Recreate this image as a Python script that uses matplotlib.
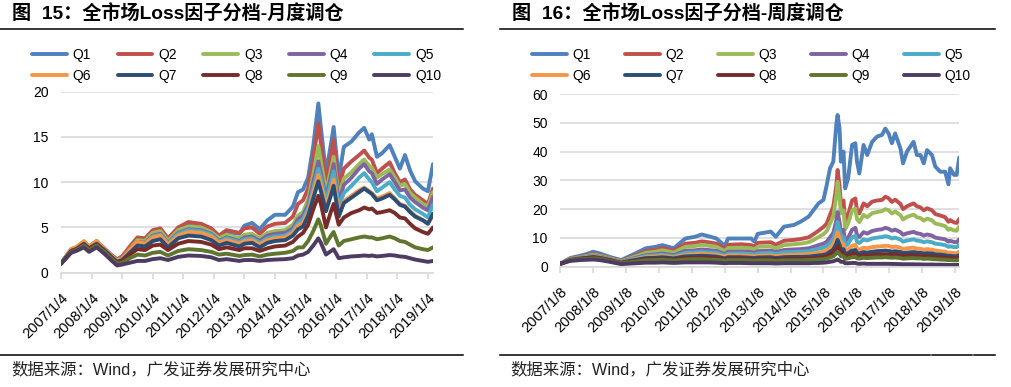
import matplotlib
matplotlib.use('Agg')
import matplotlib.pyplot as plt
from matplotlib.lines import Line2D

plt.rcParams['font.family'] = ['Liberation Sans', 'Noto Sans CJK SC', 'DejaVu Sans']

names = ['Q1', 'Q2', 'Q3', 'Q4', 'Q5', 'Q6', 'Q7', 'Q8', 'Q9', 'Q10']
colors = ['#4F81BD', '#C0504D', '#9BBB59', '#8064A2', '#4BACC6',
          '#F79646', '#2C4D75', '#772C2A', '#5F7530', '#4D3B62']

# ---- monthly rebalancing (months since 2007/1) ----
m_labels = ['2007/1/4', '2008/1/4', '2009/1/4', '2010/1/4', '2011/1/4', '2012/1/4', '2013/1/4',
            '2014/1/4', '2015/1/4', '2016/1/4', '2017/1/4', '2018/1/4', '2019/1/4']
m_x = [0, 2, 4, 6, 9, 11, 14, 17, 20, 22, 24, 27, 30, 33, 36, 39, 42, 46, 50, 55, 59, 62, 65, 70,
       72, 75, 78, 81, 84, 88, 91, 93, 95, 97, 99, 101, 102, 104, 106, 107, 109, 111, 114, 117,
       119, 121, 122, 124, 126, 129, 131, 133, 135, 137, 139, 142, 144, 146]
m_q1 = [1.0, 1.7, 2.4, 2.5, 3.3, 2.7, 3.4, 2.6, 1.8, 1.3, 1.6, 2.5, 3.5, 3.4, 4.3, 4.6, 3.6, 4.8,
        5.2, 5.0, 4.6, 3.7, 4.5, 4.3, 5.2, 5.5, 4.8, 5.8, 6.4, 6.4, 7.3, 8.9, 9.2, 10.5, 14.0, 18.7,
        16.0, 11.0, 14.3, 16.1, 10.4, 13.9, 14.5, 15.5, 16.0, 14.7, 15.3, 12.8, 13.2, 14.1, 12.8,
        11.5, 13.0, 11.3, 10.1, 9.3, 9.0, 12.0]
m_q2 = [1.0, 1.8, 2.6, 2.8, 3.4, 2.9, 3.5, 2.7, 1.9, 1.5, 1.8, 2.9, 3.9, 3.8, 4.7, 4.9, 3.8, 5.0,
        5.6, 5.4, 4.9, 4.1, 4.7, 4.4, 4.9, 5.0, 4.3, 5.1, 5.4, 5.5, 6.2, 7.6, 8.0, 9.3, 12.5, 16.5,
        14.3, 10.0, 13.0, 14.7, 9.3, 11.5, 12.3, 13.0, 13.5, 12.7, 12.5, 11.0, 11.5, 12.2, 11.0,
        10.0, 10.3, 9.2, 8.6, 8.0, 7.6, 9.3]
m_q3 = [1.0, 1.8, 2.5, 2.7, 3.3, 2.8, 3.4, 2.6, 1.8, 1.4, 1.6, 2.6, 3.6, 3.5, 4.4, 4.6, 3.5, 4.7,
        5.1, 5.0, 4.5, 3.8, 4.2, 3.8, 4.2, 4.3, 3.8, 4.4, 4.6, 4.7, 5.3, 6.3, 6.7, 8.1, 10.8, 14.0,
        12.3, 8.8, 11.5, 12.8, 8.4, 10.4, 11.1, 12.0, 12.5, 11.8, 11.6, 10.5, 10.9, 11.4, 10.5,
        9.6, 9.8, 8.8, 8.3, 7.6, 7.3, 8.9]
m_q4 = [1.0, 1.7, 2.5, 2.7, 3.3, 2.8, 3.4, 2.6, 1.8, 1.3, 1.5, 2.5, 3.4, 3.3, 4.1, 4.3, 3.3, 4.4,
        4.8, 4.7, 4.3, 3.5, 3.9, 3.5, 3.9, 4.0, 3.5, 4.1, 4.3, 4.4, 4.9, 5.9, 6.3, 7.5, 10.0, 12.3,
        11.0, 8.3, 10.7, 12.0, 7.8, 9.7, 10.5, 11.5, 12.0, 11.2, 11.0, 9.8, 10.3, 10.9, 10.0,
        9.1, 9.2, 8.3, 7.8, 7.2, 6.9, 8.4]
m_q5 = [1.0, 1.8, 2.5, 2.7, 3.4, 2.8, 3.5, 2.6, 1.8, 1.3, 1.5, 2.4, 3.3, 3.2, 4.0, 4.2, 3.2, 4.3,
        4.7, 4.6, 4.2, 3.4, 3.8, 3.4, 3.7, 3.8, 3.3, 3.8, 4.0, 4.1, 4.6, 5.5, 5.9, 7.1, 9.3, 11.5,
        10.4, 8.0, 10.0, 11.2, 7.3, 8.8, 9.6, 10.5, 11.0, 10.3, 10.0, 9.0, 9.4, 10.0, 9.2,
        8.5, 8.3, 7.5, 7.0, 6.5, 6.1, 7.5]
m_q6 = [1.0, 1.8, 2.6, 2.8, 3.5, 2.9, 3.5, 2.6, 1.8, 1.3, 1.5, 2.5, 3.4, 3.2, 3.9, 4.1, 3.1, 4.1,
        4.5, 4.4, 4.0, 3.3, 3.6, 3.2, 3.5, 3.6, 3.1, 3.6, 3.8, 3.9, 4.4, 5.2, 5.5, 6.7, 8.8, 10.8,
        9.7, 7.4, 9.2, 10.3, 6.6, 7.9, 8.5, 9.1, 9.4, 9.0, 8.8, 8.2, 8.4, 8.8, 8.2,
        7.6, 7.4, 6.8, 6.3, 5.8, 5.5, 6.3]
m_q7 = [1.0, 1.7, 2.4, 2.6, 3.2, 2.7, 3.2, 2.5, 1.7, 1.2, 1.4, 2.2, 3.0, 2.9, 3.5, 3.7, 2.8, 3.8,
        4.1, 4.0, 3.6, 3.0, 3.3, 2.9, 3.2, 3.3, 2.8, 3.3, 3.5, 3.6, 4.1, 4.8, 5.1, 6.3, 8.2, 10.1,
        9.0, 6.8, 8.6, 9.6, 6.2, 7.7, 8.3, 8.9, 9.3, 8.9, 8.7, 8.0, 8.2, 8.6, 8.1,
        7.5, 7.3, 6.7, 6.2, 5.8, 5.4, 6.5]
m_q8 = [1.0, 1.7, 2.4, 2.6, 3.1, 2.6, 3.1, 2.4, 1.6, 1.1, 1.3, 2.0, 2.6, 2.5, 3.0, 3.1, 2.5, 3.2,
        3.5, 3.4, 3.1, 2.6, 2.8, 2.5, 2.7, 2.7, 2.4, 2.7, 2.9, 3.0, 3.4, 4.0, 4.4, 5.3, 7.0, 8.5,
        7.6, 5.0, 6.8, 7.6, 5.3, 6.1, 6.6, 6.9, 7.2, 7.0, 7.1, 6.6, 6.7, 6.9, 6.6,
        6.1, 6.0, 5.4, 4.9, 4.5, 4.3, 5.0]
m_q9 = [1.0, 1.6, 2.3, 2.5, 3.0, 2.5, 3.0, 2.3, 1.5, 1.0, 1.1, 1.6, 2.0, 1.9, 2.2, 2.3, 1.9, 2.4,
        2.6, 2.5, 2.3, 2.0, 2.1, 1.85, 1.95, 2.0, 1.8, 2.0, 2.1, 2.2, 2.4, 2.8, 2.8, 3.5, 4.6, 5.9,
        5.2, 3.2, 4.1, 4.5, 3.0, 3.5, 3.7, 3.9, 4.0, 3.9, 3.9, 3.7, 3.8, 4.0, 3.8,
        3.5, 3.4, 3.1, 2.8, 2.6, 2.5, 2.8]
m_q10 = [1.0, 1.6, 2.2, 2.4, 2.8, 2.3, 2.8, 2.1, 1.3, 0.8, 0.9, 1.1, 1.3, 1.3, 1.5, 1.6, 1.4, 1.75,
         1.9, 1.85, 1.7, 1.4, 1.5, 1.3, 1.4, 1.4, 1.3, 1.4, 1.45, 1.5, 1.6, 1.9, 2.0, 2.3, 3.0, 3.8,
         3.3, 2.0, 2.4, 2.6, 1.6, 1.7, 1.8, 1.85, 1.9, 1.85, 1.9, 1.8, 1.85, 1.95, 1.9,
         1.8, 1.75, 1.6, 1.45, 1.3, 1.2, 1.3]

# ---- weekly rebalancing (fractional year) ----
w_labels = ['2007/1/8', '2008/1/8', '2009/1/8', '2010/1/8', '2011/1/8', '2012/1/8', '2013/1/8',
            '2014/1/8', '2015/1/8', '2016/1/8', '2017/1/8', '2018/1/8', '2019/1/8']
w_x = [2007.0, 2007.3, 2007.6, 2007.8, 2008.0, 2008.2, 2008.5, 2008.85, 2009.0, 2009.3, 2009.6,
       2009.9, 2010.1, 2010.45, 2010.8, 2011.1, 2011.3, 2011.5, 2011.75, 2012.0, 2012.1, 2012.5,
       2012.8, 2012.9, 2013.0, 2013.4, 2013.55, 2013.8, 2014.1, 2014.3, 2014.55, 2014.7, 2014.85,
       2015.0, 2015.1, 2015.2, 2015.3, 2015.39, 2015.43, 2015.49, 2015.53, 2015.61, 2015.66,
       2015.75, 2015.87, 2015.97, 2016.02, 2016.09, 2016.22, 2016.33, 2016.48, 2016.63, 2016.78,
       2016.88, 2016.98, 2017.08, 2017.18, 2017.34, 2017.42, 2017.54, 2017.74, 2017.84, 2017.95,
       2018.05, 2018.15, 2018.3, 2018.4, 2018.55, 2018.7, 2018.8, 2018.85, 2018.97, 2019.05,
       2019.13]
w_q1 = [1.0, 3.0, 3.8, 4.4, 5.2, 4.6, 3.4, 2.3, 3.1, 4.7, 6.4, 6.9, 7.5, 6.4, 9.8, 10.4, 11.2,
        10.6, 9.8, 7.2, 9.8, 9.8, 9.8, 8.7, 11.4, 12.2, 10.4, 13.9, 14.5, 15.6, 17.4, 19.7, 22.0,
        23.2, 28.4, 34.2, 36.5, 49.2, 52.7, 48.0, 36.5, 40.0, 27.2, 30.7, 42.3, 42.9, 36.5, 32.4,
        42.3, 38.8, 43.4, 45.2, 45.8, 48.0, 46.3, 42.9, 46.3, 41.1, 35.9, 40.0, 43.4, 38.8, 38.8,
        35.9, 40.5, 38.8, 34.8, 33.0, 33.0, 28.6, 34.2, 31.9, 31.9, 38.0]
w_q2 = [1.0, 2.8, 3.4, 3.9, 4.5, 4.0, 3.0, 2.0, 2.7, 4.0, 5.4, 5.9, 6.5, 5.5, 8.0, 8.3, 8.8,
        8.5, 8.0, 6.2, 7.6, 7.8, 7.5, 7.0, 8.3, 8.5, 7.6, 9.0, 9.3, 9.6, 10.2, 11.3, 12.5,
        13.8, 15.0, 18.0, 21.0, 28.0, 33.6, 28.0, 22.0, 23.0, 15.6, 18.0, 23.0, 23.7, 19.5, 18.5,
        22.0, 21.0, 22.6, 23.0, 23.2, 24.3, 23.8, 22.5, 23.3, 21.8, 20.0, 21.0, 22.0, 21.0, 20.6,
        19.6, 20.3, 19.6, 18.3, 17.8, 17.2, 15.6, 16.2, 15.4, 15.2, 16.6]
w_q3 = [1.0, 2.7, 3.3, 3.7, 4.2, 3.8, 2.9, 1.9, 2.5, 3.6, 4.8, 5.2, 5.7, 4.9, 6.9, 7.2, 7.6,
        7.3, 6.9, 5.4, 6.5, 6.6, 6.4, 6.0, 6.9, 7.1, 6.4, 7.5, 7.8, 8.0, 8.5, 9.3, 10.3,
        11.3, 12.4, 15.0, 17.5, 24.5, 29.5, 24.0, 18.5, 19.5, 13.0, 15.0, 19.5, 20.2, 16.5, 15.5,
        18.0, 17.2, 18.6, 19.0, 19.3, 20.0, 19.6, 18.5, 19.2, 17.9, 16.4, 17.3, 18.1, 17.2, 16.9,
        16.0, 16.7, 16.1, 15.0, 14.6, 14.1, 12.8, 13.2, 12.6, 12.5, 14.0]
w_q4 = [1.0, 2.6, 3.1, 3.5, 3.9, 3.5, 2.7, 1.7, 2.2, 3.1, 4.0, 4.3, 4.6, 4.0, 5.5, 5.7, 6.0,
        5.8, 5.5, 4.4, 5.2, 5.3, 5.1, 4.8, 5.4, 5.6, 5.1, 5.8, 6.0, 6.1, 6.4, 6.9, 7.5,
        8.0, 8.7, 10.2, 11.8, 16.0, 19.0, 15.5, 12.2, 12.8, 8.8, 10.0, 12.8, 13.5, 11.0, 10.3,
        12.0, 11.5, 12.4, 12.8, 13.0, 13.5, 13.2, 12.5, 12.9, 12.0, 11.1, 11.6, 12.1, 11.6, 11.4,
        10.8, 11.2, 10.8, 10.1, 9.8, 9.5, 8.7, 9.0, 8.6, 8.5, 9.5]
w_q5 = [1.0, 2.6, 3.1, 3.4, 3.8, 3.4, 2.6, 1.6, 2.1, 2.9, 3.7, 3.9, 4.2, 3.6, 4.8, 5.0, 5.2,
        5.0, 4.8, 3.9, 4.5, 4.6, 4.4, 4.2, 4.6, 4.8, 4.4, 5.0, 5.1, 5.2, 5.4, 5.8, 6.2,
        6.6, 7.1, 8.3, 9.6, 13.0, 15.5, 12.6, 9.9, 10.3, 7.1, 8.0, 10.2, 10.7, 8.7, 8.2,
        9.5, 9.1, 9.8, 10.1, 10.3, 10.6, 10.4, 9.8, 10.1, 9.4, 8.7, 9.1, 9.5, 9.1, 8.9,
        8.5, 8.8, 8.5, 8.0, 7.8, 7.5, 6.9, 7.1, 6.8, 6.8, 7.5]
w_q6 = [1.0, 2.5, 3.0, 3.3, 3.6, 3.3, 2.5, 1.5, 1.9, 2.6, 3.3, 3.5, 3.7, 3.2, 4.1, 4.3, 4.5,
        4.3, 4.1, 3.4, 3.9, 3.9, 3.7, 3.5, 3.8, 3.9, 3.6, 4.0, 4.1, 4.2, 4.3, 4.6, 4.9,
        5.2, 5.6, 6.6, 7.6, 10.2, 12.0, 9.8, 7.7, 7.9, 5.5, 6.0, 7.3, 7.6, 6.2, 5.9,
        6.6, 6.4, 6.8, 7.0, 7.1, 7.3, 7.2, 6.8, 7.0, 6.6, 6.1, 6.4, 6.6, 6.3, 6.2,
        5.9, 6.1, 5.9, 5.6, 5.4, 5.2, 4.8, 4.9, 4.7, 4.7, 5.2]
w_q7 = [1.0, 2.4, 2.9, 3.1, 3.4, 3.1, 2.4, 1.4, 1.8, 2.4, 3.0, 3.1, 3.3, 2.9, 3.6, 3.7, 3.8,
        3.7, 3.5, 2.9, 3.3, 3.3, 3.1, 3.0, 3.2, 3.3, 3.0, 3.3, 3.4, 3.4, 3.5, 3.7, 3.9,
        4.1, 4.4, 5.2, 6.0, 8.0, 9.3, 7.6, 6.0, 6.1, 4.3, 4.7, 5.6, 5.8, 4.8, 4.6,
        5.1, 4.9, 5.2, 5.4, 5.5, 5.6, 5.5, 5.2, 5.4, 5.1, 4.7, 4.9, 5.1, 4.9, 4.8,
        4.6, 4.7, 4.6, 4.3, 4.2, 4.0, 3.7, 3.8, 3.6, 3.6, 4.0]
w_q8 = [1.0, 2.3, 2.7, 2.9, 3.2, 2.9, 2.2, 1.3, 1.6, 2.1, 2.6, 2.7, 2.8, 2.5, 3.0, 3.1, 3.2,
        3.1, 2.9, 2.5, 2.8, 2.8, 2.6, 2.5, 2.7, 2.7, 2.5, 2.7, 2.8, 2.8, 2.9, 3.0, 3.2,
        3.3, 3.6, 4.2, 4.8, 6.3, 7.2, 6.0, 4.8, 4.8, 3.5, 3.8, 4.4, 4.5, 3.8, 3.6,
        4.0, 3.9, 4.1, 4.2, 4.3, 4.3, 4.3, 4.1, 4.2, 4.0, 3.7, 3.8, 4.0, 3.8, 3.8,
        3.6, 3.7, 3.6, 3.4, 3.3, 3.2, 3.0, 3.0, 2.9, 2.9, 3.2]
w_q9 = [1.0, 2.2, 2.6, 2.7, 2.9, 2.7, 2.0, 1.2, 1.4, 1.8, 2.2, 2.3, 2.4, 2.1, 2.5, 2.6, 2.6,
        2.5, 2.4, 2.1, 2.3, 2.3, 2.2, 2.1, 2.2, 2.2, 2.0, 2.2, 2.2, 2.2, 2.3, 2.4, 2.5,
        2.6, 2.8, 3.2, 3.6, 4.6, 5.2, 4.4, 3.6, 3.6, 2.7, 2.9, 3.3, 3.4, 2.9, 2.8,
        3.1, 3.0, 3.1, 3.2, 3.2, 3.3, 3.2, 3.1, 3.2, 3.0, 2.8, 2.9, 3.0, 2.9, 2.9,
        2.7, 2.8, 2.7, 2.6, 2.5, 2.4, 2.3, 2.3, 2.2, 2.2, 2.4]
w_q10 = [1.0, 2.0, 2.3, 2.4, 2.5, 2.3, 1.7, 0.9, 1.0, 1.2, 1.4, 1.4, 1.5, 1.3, 1.5, 1.5, 1.5,
         1.5, 1.4, 1.2, 1.3, 1.3, 1.2, 1.2, 1.2, 1.2, 1.1, 1.2, 1.2, 1.2, 1.2, 1.3, 1.3,
         1.4, 1.5, 1.7, 1.9, 2.3, 2.5, 2.1, 1.7, 1.7, 1.2, 1.2, 1.3, 1.3, 1.1, 1.0,
         1.1, 1.0, 1.0, 1.0, 1.0, 1.0, 1.0, 0.95, 0.95, 0.9, 0.85, 0.85, 0.85, 0.8, 0.8,
         0.75, 0.75, 0.75, 0.7, 0.7, 0.65, 0.6, 0.6, 0.6, 0.6, 0.65]

GRID = '#D9D9D9'
W, H = 1011.0, 387.0


def draw_panel(ax, x, series, ticks, labels, ylim, yticks):
    for s, c, n in zip(series, colors, names):
        ax.plot(x, s, color=c, lw=2.8, label=n, solid_capstyle='round', solid_joinstyle='round')
    ax.set_xlim(x[0], x[-1])
    ax.set_ylim(*ylim)
    ax.set_yticks(yticks)
    ax.set_xticks(ticks)
    ax.set_xticklabels(labels, rotation=45, ha='right', rotation_mode='anchor')
    ax.grid(axis='y', color=GRID, lw=1.2)
    ax.set_axisbelow(True)
    for k in ['top', 'right', 'left']:
        ax.spines[k].set_visible(False)
    ax.spines['bottom'].set_color(GRID)
    ax.spines['bottom'].set_linewidth(1.2)
    ax.tick_params(axis='y', length=0, pad=9, labelsize=10, labelcolor='black')
    ax.tick_params(axis='x', length=4, color=GRID, width=1.2, pad=9, labelsize=10.5)


def add_legend(ax, x0, colspace):
    h, l = ax.get_legend_handles_labels()
    # legend fills column by column; reorder so rows read Q1..Q5 / Q6..Q10
    order = [0, 5, 1, 6, 2, 7, 3, 8, 4, 9]
    fig.legend([h[i] for i in order], [l[i] for i in order], loc='upper left',
               bbox_to_anchor=(x0 / W, 1 - 48 / H), ncol=5, frameon=False, fontsize=10,
               handlelength=2.5, handletextpad=0.43, columnspacing=colspace,
               labelspacing=0.5, borderpad=0, borderaxespad=0)


fig = plt.figure(figsize=(W / 100, H / 100), dpi=100)

ax1 = fig.add_axes([61 / W, 114.3 / H, 372 / W, 181 / H])
draw_panel(ax1, m_x, [m_q1, m_q2, m_q3, m_q4, m_q5, m_q6, m_q7, m_q8, m_q9, m_q10],
           list(range(0, 145, 12)), m_labels, (0, 20), [0, 5, 10, 15, 20])

ax2 = fig.add_axes([560.3 / W, 120.3 / H, 399 / W, 172.7 / H])
draw_panel(ax2, w_x, [w_q1, w_q2, w_q3, w_q4, w_q5, w_q6, w_q7, w_q8, w_q9, w_q10],
           list(range(2007, 2020)), w_labels, (0, 60), [0, 10, 20, 30, 40, 50, 60])

add_legend(ax1, 32, 1.9)
add_legend(ax2, 532, 2.43)

# titles and rules
fig.text(12 / W, 1 - 14.5 / H, '图  15：全市场Loss因子分档-月度调仓', fontsize=13.8,
         fontweight='bold', va='center', ha='left')
fig.text(512 / W, 1 - 14.5 / H, '图  16：全市场Loss因子分档-周度调仓', fontsize=13.8,
         fontweight='bold', va='center', ha='left')
for x0, x1 in [(0, 463), (500, 995)]:
    fig.add_artist(Line2D([x0 / W, x1 / W], [1 - 29.3 / H] * 2, color='black', lw=1.1))
for x0, x1 in [(0, 463), (500, 930), (931.5, 972), (973.5, 995)]:
    fig.add_artist(Line2D([x0 / W, x1 / W], [1 - 355 / H] * 2, color='black', lw=1.1))

fig.text(11 / W, 1 - 370 / H, '数据来源：Wind，广发证券发展研究中心', fontsize=11.8,
         va='center', ha='left', color='#222222')
fig.text(510 / W, 1 - 370 / H, '数据来源：Wind，广发证券发展研究中心', fontsize=11.8,
         va='center', ha='left', color='#222222')

fig.savefig('out.png', dpi=100)
